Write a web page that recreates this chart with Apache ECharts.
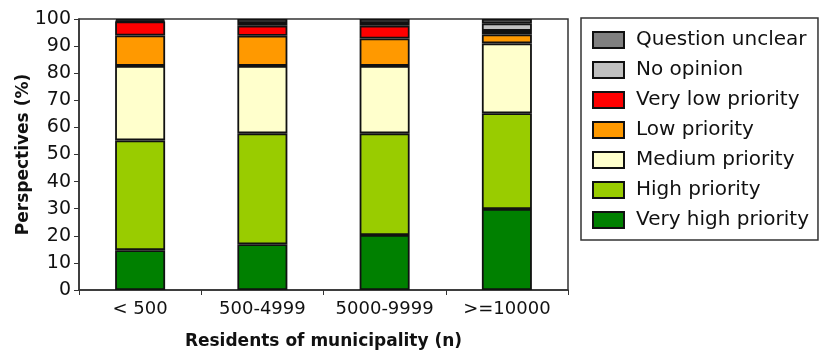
<!DOCTYPE html>
<html>
<head>
<meta charset="utf-8">
<script src="https://cdn.jsdelivr.net/npm/echarts@6/dist/echarts.min.js"></script>
<style>
  html, body { margin: 0; padding: 0; background: #fff; }
  #chart { width: 822px; height: 356px; }
</style>
</head>
<body>
<div id="chart"></div>
<script>
// municipality size classes
const categories = ['< 500', '500-4999', '5000-9999', '>=10000']

// shares per answer (%), bottom to top
const veryHigh = [14.7, 16.9, 20.3, 29.9]
const high = [40.5, 40.9, 37.5, 35.3]
const medium = [27.5, 24.9, 24.9, 25.8]
const low = [11.2, 11.1, 10.1, 3.3]
const veryLow = [5.2, 3.7, 4.7, 1.3]
const noOpinion = [0.3, 1.0, 1.0, 2.8]
const questionUnclear = [0.6, 1.5, 1.5, 1.6]

const yTicks = [0, 10, 20, 30, 40, 50, 60, 70, 80, 90, 100]

const font = 'DejaVu Sans'

function bar (name, data, color) {
  return {
    name: name,
    type: 'bar',
    stack: 'total',
    barWidth: 50,
    data: data,
    itemStyle: { color: color, borderColor: '#111', borderWidth: 1.8 }
  }
}

const chart = echarts.init(document.getElementById('chart'))
chart.setOption({
  animation: false,
  textStyle: { fontFamily: font },
  grid: {
    left: 79, right: 254, top: 19, bottom: 66,
    show: true, borderColor: '#333', borderWidth: 1.5
  },
  legend: {
    orient: 'vertical',
    left: 581,
    top: 18,
    padding: [12, 9, 10, 11],
    icon: 'rect',
    itemWidth: 31,
    itemHeight: 16,
    itemGap: 10,
    borderColor: '#333',
    borderWidth: 1.5,
    textStyle: { fontFamily: font, fontSize: 20, lineHeight: 20, color: '#111', padding: [0, 0, 0, 7] },
    data: ['Question unclear', 'No opinion', 'Very low priority', 'Low priority',
      'Medium priority', 'High priority', 'Very high priority']
  },
  xAxis: {
    type: 'category',
    data: categories,
    name: 'Residents of municipality (n)',
    nameLocation: 'middle',
    nameGap: 43,
    nameTextStyle: { fontFamily: font, fontSize: 17, fontWeight: 'bold', color: '#111' },
    axisLine: { lineStyle: { color: '#333', width: 1.5 } },
    axisTick: { show: true, length: 5, lineStyle: { color: '#333' } },
    axisLabel: { fontSize: 18, color: '#111', margin: 10, interval: 0 }
  },
  yAxis: {
    type: 'value',
    min: 0,
    max: 100,
    interval: 10,
    name: 'Perspectives (%)',
    nameLocation: 'middle',
    nameGap: 47,
    nameMoveOverlap: false,
    nameTextStyle: { fontFamily: font, fontSize: 17, fontWeight: 'bold', color: '#111' },
    splitLine: { show: false },
    axisLine: { show: true, lineStyle: { color: '#333', width: 1.5 } },
    axisTick: { show: true, length: 5, lineStyle: { color: '#333' } },
    axisLabel: {
      fontSize: 19, color: '#111', margin: 8,
      formatter: v => yTicks.includes(v) ? String(v) : ''
    }
  },
  series: [
    bar('Very high priority', veryHigh, '#008000'),
    bar('High priority', high, '#99cc00'),
    bar('Medium priority', medium, '#ffffcc'),
    bar('Low priority', low, '#ff9900'),
    bar('Very low priority', veryLow, '#ff0000'),
    bar('No opinion', noOpinion, '#c0c0c0'),
    bar('Question unclear', questionUnclear, '#808080')
  ]
})
</script>
</body>
</html>
